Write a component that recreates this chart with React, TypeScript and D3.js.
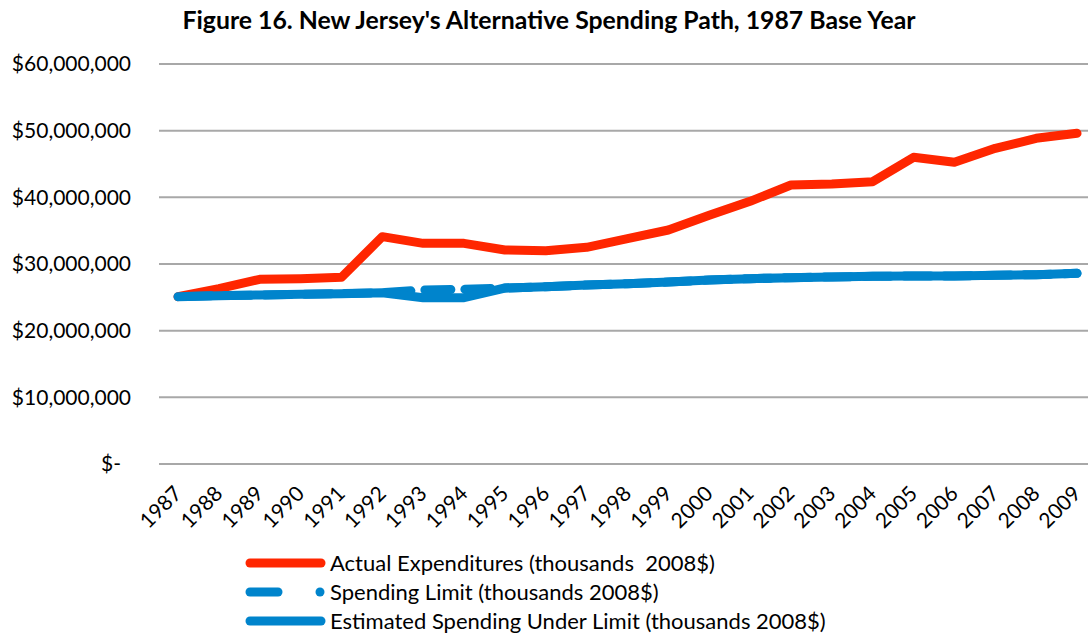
import React from "react";
import * as d3 from "d3";

const years = ["1987","1988","1989","1990","1991","1992","1993","1994","1995","1996","1997","1998","1999","2000","2001","2002","2003","2004","2005","2006","2007","2008","2009"];
// values in millions of dollars (axis shows dollars)
const actual = [25.1, 26.3, 27.7, 27.8, 28.0, 34.1, 33.1, 33.1, 32.1, 32.0, 32.5, 33.8, 35.1, 37.3, 39.4, 41.85, 42.0, 42.35, 46.0, 45.25, 47.35, 48.85, 49.6];
const limit = [25.1, 25.25, 25.35, 25.45, 25.55, 25.7, 26.1, 26.2, 26.4, 26.6, 26.85, 27.05, 27.3, 27.6, 27.8, 27.95, 28.05, 28.15, 28.2, 28.2, 28.3, 28.4, 28.6];
const estimated = [25.1, 25.25, 25.35, 25.45, 25.55, 25.7, 24.95, 24.95, 26.4, 26.6, 26.85, 27.05, 27.3, 27.6, 27.8, 27.95, 28.05, 28.15, 28.2, 28.2, 28.3, 28.4, 28.6];
const yTicks = [0, 10, 20, 30, 40, 50, 60];
const yTickLabels = ["$-", "$10,000,000", "$20,000,000", "$30,000,000", "$40,000,000", "$50,000,000", "$60,000,000"];
const seriesNames = [
  "Actual Expenditures (thousands\u00a0\u00a02008$)",
  "Spending Limit (thousands 2008$)",
  "Estimated Spending Under Limit (thousands 2008$)",
];

const W = 1088, H = 634;
const RED = "#ff2600";
const BLUE = "#0084cc";
const FONT = "Lato, 'Open Sans', sans-serif";

export default function App() {
  const x = d3.scalePoint<string>().domain(years).range([178, 1077]);
  const y = d3.scaleLinear().domain([0, 60]).range([464, 64]);
  const line = d3
    .line<number>()
    .x((_, i) => x(years[i]) as number)
    .y((d) => y(d));

  return (
    <svg width={W} height={H} style={{ position: "absolute", left: 0, top: 0, background: "#fff" }} fontFamily={FONT}>
      <text x={549} y={29} textAnchor="middle" fontWeight="bold" fontSize={24.8} fill="#000">
        Figure 16. New Jersey's Alternative Spending Path, 1987 Base Year
      </text>
      {yTicks.map((t, i) => (
        <g key={t}>
          <line x1={159} x2={1088} y1={y(t)} y2={y(t)} stroke="#a8a8a8" strokeWidth={2} />
          <text
            x={t === 0 ? 121 : 131}
            y={y(t)}
            dy="0.35em"
            textAnchor="end"
            fontSize={21}
            fill="#000"
          >
            {yTickLabels[i]}
          </text>
        </g>
      ))}
      {years.map((yr) => (
        <text
          key={yr}
          transform={`translate(${(x(yr) as number) + 5},495) rotate(-45)`}
          textAnchor="end"
          fontSize={21}
          fill="#000"
        >
          {yr}
        </text>
      ))}
      <path d={line(actual) || ""} fill="none" stroke={RED} strokeWidth={9} strokeLinejoin="round" strokeLinecap="round" />
      <path d={line(limit) || ""} fill="none" stroke={BLUE} strokeWidth={9} strokeLinejoin="round" strokeLinecap="round" strokeDasharray="26 14" strokeDashoffset={-7} />
      <path d={line(estimated) || ""} fill="none" stroke={BLUE} strokeWidth={9} strokeLinejoin="round" strokeLinecap="round" />

      {/* legend */}
      <line x1={250} x2={321} y1={563} y2={563} stroke={RED} strokeWidth={9} strokeLinecap="round" />
      <text x={330} y={563} dy="0.35em" fontSize={22} fill="#000">{seriesNames[0]}</text>
      <line x1={250} x2={278} y1={592} y2={592} stroke={BLUE} strokeWidth={9} strokeLinecap="round" />
      <circle cx={320} cy={592} r={4.5} fill={BLUE} />
      <text x={330} y={592} dy="0.35em" fontSize={22} fill="#000">{seriesNames[1]}</text>
      <line x1={250} x2={321} y1={621} y2={621} stroke={BLUE} strokeWidth={9} strokeLinecap="round" />
      <text x={330} y={621} dy="0.35em" fontSize={22} fill="#000">{seriesNames[2]}</text>
    </svg>
  );
}
